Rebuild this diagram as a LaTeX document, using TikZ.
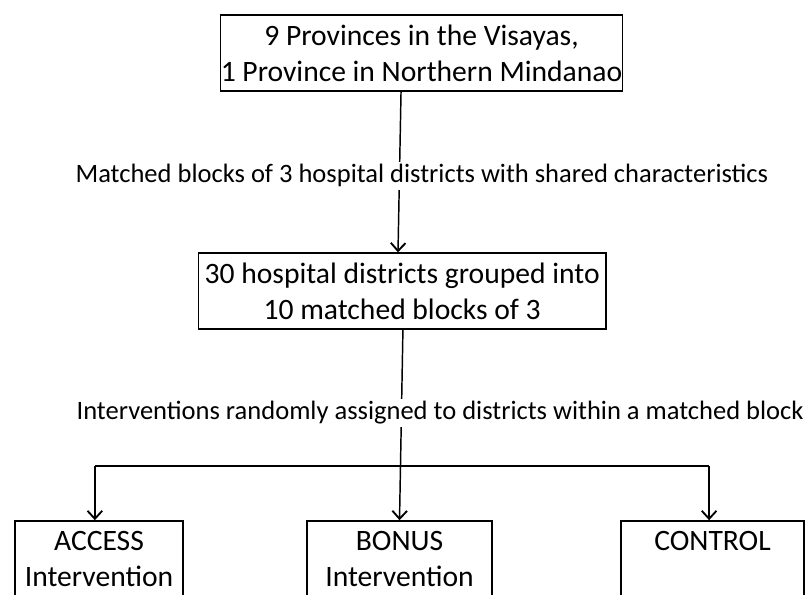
\documentclass[tikz,border=0pt]{standalone}
\usepackage{fontspec}
\setmainfont{Carlito}
\usepackage{tikz}
\usetikzlibrary{arrows.meta,positioning,calc}

\begin{document}
\begin{tikzpicture}[
    box/.style={draw, line width=1.1pt, fill=white, inner sep=0pt,
                minimum height=2cm, align=center,
                font=\fontsize{22.2}{27}\selectfont},
    lbl/.style={fill=white, inner sep=2pt, font=\fontsize{19.9}{23}\selectfont},
    arr/.style={-{Straight Barb[length=6pt, width=11pt, line width=1.4pt]}, line width=1.1pt}
]
\useasboundingbox (0,0) rectangle (21.27,-15.66);

\node[box, minimum width=10.57cm] (prov) at (11.11,-1.40) {9 Provinces in the Visayas,\\1 Province in Northern Mindanao};
\node[box, minimum width=10.75cm] (dist) at (10.60,-7.67) {30 hospital districts grouped into\\10 matched blocks of 3};

\node[box, minimum width=4.43cm] (access) at (2.61,-14.73) {ACCESS\\Intervention};
\node[box, minimum width=4.88cm] (bonus) at (10.53,-14.73) {BONUS\\Intervention};
\node[box, minimum width=4.82cm] (control) at (18.78,-14.73) {CONTROL\\\mbox{}};

\coordinate (split) at (10.54,-12.28);
\coordinate (splitl) at (2.50,-12.28);
\coordinate (splitr) at (18.69,-12.28);

\draw[arr] ([xshift=-0.54cm]prov.south) -- ([xshift=-0.11cm]dist.north);
\draw[arr] ([xshift=0.02cm]dist.south) -- (bonus.north);
\draw[line width=1.1pt] (splitl) -- (splitr);
\draw[arr] (splitl) -- (splitl |- access.north);
\draw[arr] (splitr) -- (splitr |- control.north);

\node[lbl] (match) at (11.12,-4.63) {Matched blocks of 3 hospital districts with shared characteristics};
\node[lbl] (rand) at (11.60,-10.88) {Interventions randomly assigned to districts within a matched block};
\end{tikzpicture}
\end{document}
